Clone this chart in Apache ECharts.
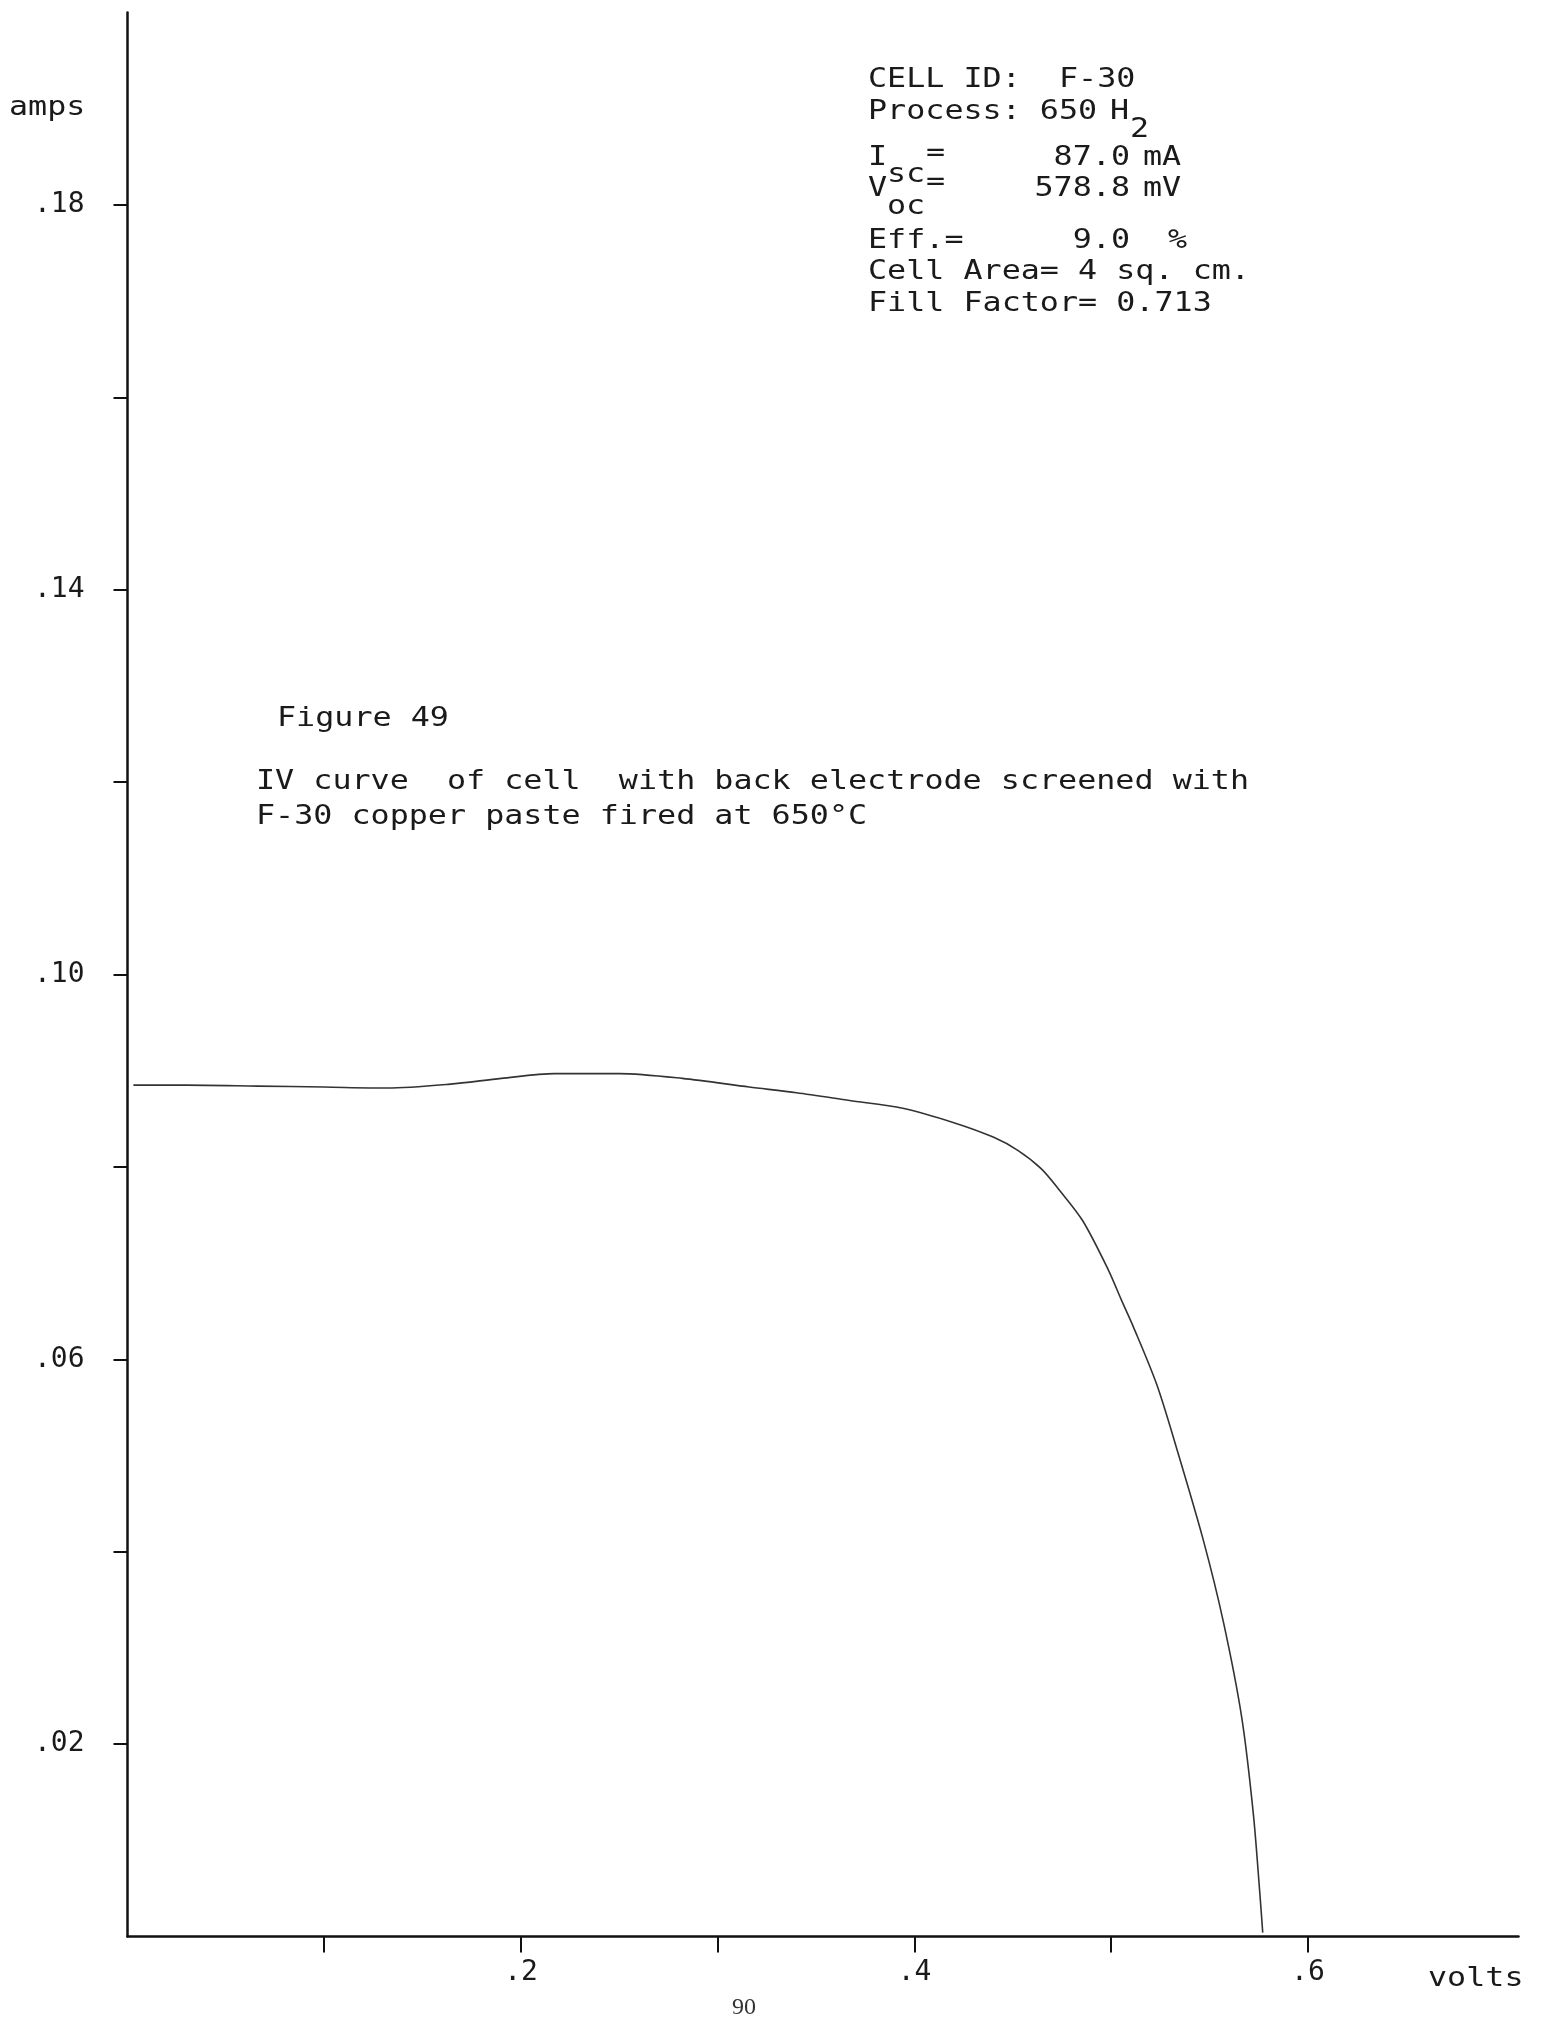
<!DOCTYPE html>
<html><head><meta charset="utf-8">
<script src="https://cdn.jsdelivr.net/npm/echarts@6/dist/echarts.min.js"></script>
<style>html,body{margin:0;padding:0;background:#fff}#c{width:1544px;height:2021px}</style>
</head><body><div id="c"></div>
<script>
// ---- data ----
const voltage = [0.003, 0.03, 0.066, 0.10, 0.132, 0.164, 0.19, 0.217, 0.25, 0.282, 0.316, 0.34, 0.367, 0.394, 0.42, 0.44, 0.4527, 0.4645, 0.4736, 0.4855, 0.4985, 0.5053, 0.5112, 0.5231, 0.5333, 0.5468, 0.557, 0.5663, 0.5722, 0.5756, 0.577];
const current = [0.0885, 0.0885, 0.0884, 0.0883, 0.0882, 0.0886, 0.0892, 0.0897, 0.0897, 0.0892, 0.0883, 0.0877, 0.0869, 0.0861, 0.0846, 0.0831, 0.0817, 0.0798, 0.0776, 0.0744, 0.0693, 0.0661, 0.0634, 0.0574, 0.0507, 0.0412, 0.0327, 0.0228, 0.0128, 0.0043, 0.0004];
const xTickValues = [0.1, 0.2, 0.3, 0.4, 0.5, 0.6];
const xLabelValues = [0.2, 0.4, 0.6];
const yTickValues = [0.02, 0.04, 0.06, 0.08, 0.10, 0.12, 0.14, 0.16, 0.18];
const yLabelValues = [0.02, 0.06, 0.10, 0.14, 0.18];
const xAxisName = 'volts';
const yAxisName = 'amps';
const captionTitle = 'Figure 49';
const captionLines = ['IV curve  of cell  with back electrode screened with', 'F-30 copper paste fired at 650°C'];
const pageNumber = '90';

const MONO = '"DejaVu Sans Mono", "Liberation Mono", monospace';
const INK = '#1a1a1a';
function T(text, x, y, o) {
  o = o || {};
  const size = o.size || 26;
  const align = o.align || 'left';
  return {
    type: 'text', x: x, y: y, scaleX: o.sx == null ? 1.22 : o.sx, scaleY: 1, silent: true,
    style: {
      text: text, fill: o.fill || INK, font: size + 'px ' + (o.family || MONO),
      align: align, textAlign: align, verticalAlign: 'middle', textVerticalAlign: 'middle'
    }
  };
}

const graphics = [
  T(yAxisName, 9, 108),
  T(xAxisName, 1428, 1979),
  // info block
  T('CELL ID:  F-30', 868, 80),
  T('Process: 650', 868, 112),
  T('H', 1110, 112),
  T('2', 1130, 130),
  T('I', 868, 158),
  T('sc', 887, 175),
  T('=', 926, 154),
  T('87.0', 1130, 158, {align: 'right'}),
  T('mA', 1143, 158),
  T('V', 868, 189),
  T('=', 926, 183),
  T('578.8', 1130, 189, {align: 'right'}),
  T('mV', 1143, 189),
  T('oc', 887, 207),
  T('Eff.=', 868, 241),
  T('9.0', 1130, 241, {align: 'right'}),
  T('%', 1168, 241),
  T('Cell Area= 4 sq. cm.', 868, 272),
  T('Fill Factor= 0.713', 868, 304),
  // caption
  T(captionTitle, 277, 719),
  T(captionLines[0], 256, 782),
  T(captionLines[1], 256, 817),
  T(pageNumber, 744, 2008, {sx: 1, size: 24, family: '"Liberation Serif", "DejaVu Serif", serif', align: 'center', fill: '#333'})
];

const chart = echarts.init(document.getElementById('c'), null, {renderer: 'canvas'});
chart.setOption({
  animation: false,
  backgroundColor: '#ffffff',
  grid: {left: 127.5, right: 25.5, top: 12.5, bottom: 84.5, containLabel: false},
  xAxis: {
    type: 'value', min: 0, max: 0.707,
    axisLine: {show: true, onZero: false, lineStyle: {color: '#111', width: 2.5}},
    axisTick: {show: true, customValues: xTickValues, length: 16, lineStyle: {color: '#111', width: 2}},
    axisLabel: {show: true, customValues: xLabelValues, margin: 22, fontSize: 28, fontFamily: MONO, color: INK,
      formatter: v => v.toFixed(1).replace(/^0/, '')},
    splitLine: {show: false}
  },
  yAxis: {
    type: 'value', min: 0, max: 0.2,
    axisLine: {show: true, onZero: false, lineStyle: {color: '#111', width: 2.5}},
    axisTick: {show: true, customValues: yTickValues, length: 14, lineStyle: {color: '#111', width: 2}},
    axisLabel: {show: true, customValues: yLabelValues, margin: 43, fontSize: 28, fontFamily: MONO, color: INK,
      formatter: v => v.toFixed(2).replace(/^0/, '')},
    splitLine: {show: false}
  },
  graphic: graphics,
  series: [{
    type: 'line',
    data: voltage.map((v, i) => [v, current[i]]),
    showSymbol: false, symbol: 'none', smooth: 0.3,
    lineStyle: {color: '#333', width: 1.6}
  }]
});
</script>
</body></html>
